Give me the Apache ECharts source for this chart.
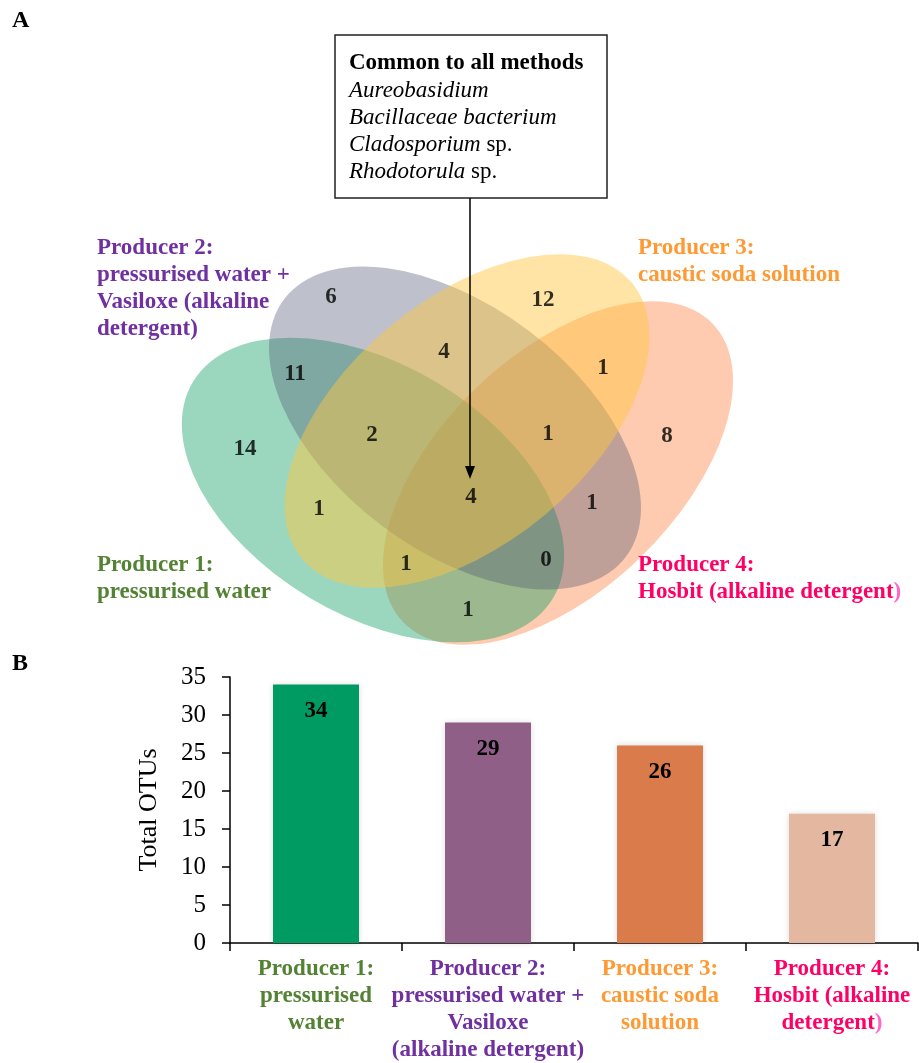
<!DOCTYPE html>
<html>
<head>
<meta charset="utf-8">
<title>OTUs by cleaning method</title>
<script src="https://cdn.jsdelivr.net/npm/echarts@6/dist/echarts.min.js"></script>
<style>
  html, body { margin: 0; padding: 0; background: #ffffff; }
  #chart { width: 919px; height: 1063px; }
</style>
</head>
<body>
<div id="chart"></div>
<script>
// ---------- data ----------
const producers = ['Producer 1', 'Producer 2', 'Producer 3', 'Producer 4'];

// cleaning method, one entry per producer (line breaks for the Venn labels)
const vennLabelLines = [
  ['Producer 1:', 'pressurised water'],
  ['Producer 2:', 'pressurised water +', 'Vasiloxe (alkaline', 'detergent)'],
  ['Producer 3:', 'caustic soda solution'],
  ['Producer 4:', 'Hosbit (alkaline detergent']
];
// same methods, wrapped for the bar-chart axis
const axisLabelLines = [
  ['Producer 1:', 'pressurised', 'water'],
  ['Producer 2:', 'pressurised water +', 'Vasiloxe', '(alkaline detergent)'],
  ['Producer 3:', 'caustic soda', 'solution'],
  ['Producer 4:', 'Hosbit (alkaline', 'detergent']
];

// Panel B: total OTUs per producer
const totalOTUs = [34, 29, 26, 17];
const yTickLabels = ['0', '5', '10', '15', '20', '25', '30', '35'];

// Panel A: OTUs in each Venn region (producers sharing them)
const regionSets = ['1', '2', '3', '4', '1+2', '1+3', '1+4', '2+3', '2+4', '3+4',
                    '1+2+3', '1+2+4', '1+3+4', '2+3+4', '1+2+3+4'];
const regionCounts = [14, 6, 12, 8, 11, 1, 1, 4, 1, 1, 2, 0, 1, 1, 4];

const commonTaxa = ['Aureobasidium', 'Bacillaceae bacterium', 'Cladosporium', 'Rhodotorula'];
const commonTaxaSuffix = ['', '', ' sp.', ' sp.'];

// ---------- layout & style ----------
const SERIF = '"Liberation Serif", "Times New Roman", serif';
const FS = 23;   // text size used throughout the figure
const LH = 27;   // line height of the multi-line labels
const producerColors = ['#548235', '#7030A0', '#FF9933', '#FF0066'];
const barColors = ['#009B62', '#8F5F88', '#D97B4A', '#E3B7A0'];

// Venn ellipses in diagram units: [cx, cy, semi-major, semi-minor, tilt in degrees (anticlockwise)]
const ellipseGeom = [
  [373, 490, 210, 125, -31],
  [455, 428, 214, 122, -37],
  [467, 421, 215, 122, 40],
  [558, 473, 215, 118, 44]
];
const vennFills = [
  'rgba(5,155,92,0.40)',
  'rgba(79,88,115,0.37)',
  'rgba(255,198,64,0.47)',
  'rgba(255,140,80,0.45)'
];
const vennDrawOrder = [3, 0, 1, 2];

// anchor of each region's count, same order as regionSets
const regionAnchors = [
  [245, 449], [331, 297], [543, 300], [667, 436],
  [295, 374], [319, 509], [468, 610], [444, 352], [592, 503], [603, 368],
  [372, 435], [546, 560], [406, 564], [548, 434], [471, 497]
];

// ---------- chart ----------
const chart = echarts.init(document.getElementById('chart'), null, { renderer: 'canvas' });

const boldRich = color => ({ fontFamily: SERIF, fontWeight: 'bold', fontSize: FS, lineHeight: LH, fill: color, color: color });

const vennLabelGraphics = vennLabelLines.map((lines, i) => {
  const pos = [[97, 552], [97, 235], [638, 235], [638, 552]][i];
  let text = lines.map(l => '{t|' + l + '}').join('\n');
  if (i === 3) text += '{e|)}';
  return {
    type: 'text', x: pos[0], y: pos[1], z: 10,
    style: {
      text: text,
      verticalAlign: 'top',
      rich: { t: boldRich(producerColors[i]), e: boldRich('#FF66CC') }
    }
  };
});

const boxText = ['{b|Common to all methods}']
  .concat(commonTaxa.map((t, i) => '{i|' + t + '}' + (commonTaxaSuffix[i] ? '{r|' + commonTaxaSuffix[i] + '}' : '')))
  .join('\n');

const option = {
  animation: false,
  backgroundColor: '#ffffff',
  grid: [
    { left: 0, top: 0, width: 919, height: 1063 },
    { left: 230, top: 677, width: 688, height: 266 }
  ],
  xAxis: [
    { gridIndex: 0, type: 'value', min: 0, max: 919, show: false },
    {
      gridIndex: 1, type: 'category', data: producers,
      axisLine: { lineStyle: { color: '#000', width: 1.5 } },
      axisTick: { show: true, length: 8, lineStyle: { color: '#000', width: 1.5 } },
      axisLabel: {
        interval: 0, margin: 13,
        formatter: (v, idx) => {
          let s = axisLabelLines[idx].map(l => '{c' + idx + '|' + l + '}').join('\n');
          if (idx === 3) s += '{e|)}';
          return s;
        },
        rich: {
          c0: boldRich(producerColors[0]),
          c1: boldRich(producerColors[1]),
          c2: boldRich(producerColors[2]),
          c3: boldRich(producerColors[3]),
          e: boldRich('#FF66CC')
        }
      }
    }
  ],
  yAxis: [
    { gridIndex: 0, type: 'value', min: 0, max: 1063, inverse: true, show: false },
    {
      gridIndex: 1, type: 'value', min: 0, max: 35, interval: 5,
      name: 'Total OTUs', nameLocation: 'middle', nameGap: 68,
      nameTextStyle: { fontFamily: SERIF, fontSize: 26, color: '#000' },
      axisLine: { show: true, lineStyle: { color: '#000', width: 1.5 } },
      axisTick: { show: true, length: 8, lineStyle: { color: '#000', width: 1.5 } },
      splitLine: { show: false },
      axisLabel: {
        margin: 24, fontFamily: SERIF, fontSize: 25, color: '#000',
        formatter: v => yTickLabels[Math.round(v / 5)]
      }
    }
  ],
  series: [
    {
      type: 'custom', name: 'venn', xAxisIndex: 0, yAxisIndex: 0, silent: true, z: 1,
      data: vennDrawOrder.map(k => ellipseGeom[k]),
      renderItem: (params, api) => {
        const k = vennDrawOrder[params.dataIndex];
        const c = api.coord([api.value(0), api.value(1)]);
        const s = api.size([api.value(2), api.value(3)]);
        const rx = Math.abs(s[0]), ry = Math.abs(s[1]);
        return {
          type: 'circle',
          x: c[0], y: c[1],
          rotation: api.value(4) * Math.PI / 180,
          scaleX: rx / ry, scaleY: 1,
          shape: { cx: 0, cy: 0, r: ry },
          style: { fill: vennFills[k] }
        };
      }
    },
    {
      type: 'scatter', name: 'regions', xAxisIndex: 0, yAxisIndex: 0, silent: true, z: 3,
      symbolSize: 0,
      data: regionAnchors.map((p, i) => ({ name: regionSets[i], value: [p[0], p[1], regionCounts[i]] })),
      label: {
        show: true, position: 'inside',
        formatter: p => String(p.value[2]),
        fontFamily: SERIF, fontWeight: 'bold', fontSize: FS, color: '#000'
      }
    },
    {
      type: 'bar', name: 'Total OTUs', xAxisIndex: 1, yAxisIndex: 1, barWidth: '50%',
      data: totalOTUs.map((v, i) => ({
        value: v,
        itemStyle: { color: barColors[i], shadowBlur: 6, shadowColor: 'rgba(0,0,0,0.15)' }
      })),
      label: {
        show: true, position: 'insideTop', distance: 15,
        fontFamily: SERIF, fontWeight: 'bold', fontSize: FS, color: '#000'
      }
    }
  ],
  graphic: [
    { type: 'text', x: 12, y: 9, style: { text: 'A', font: 'bold 24px ' + SERIF, fill: '#000', verticalAlign: 'top' } },
    { type: 'text', x: 12, y: 652, style: { text: 'B', font: 'bold 24px ' + SERIF, fill: '#000', verticalAlign: 'top' } },
    {
      type: 'rect', z: 10,
      shape: { x: 335, y: 35, width: 272, height: 163 },
      style: { fill: '#fff', stroke: '#222', lineWidth: 1.5 }
    },
    {
      type: 'text', x: 349, y: 50, z: 11,
      style: {
        text: boxText, verticalAlign: 'top',
        rich: {
          b: { fontFamily: SERIF, fontWeight: 'bold', fontSize: FS, lineHeight: LH, fill: '#000' },
          i: { fontFamily: SERIF, fontStyle: 'italic', fontSize: FS, lineHeight: LH, fill: '#000' },
          r: { fontFamily: SERIF, fontSize: FS, lineHeight: LH, fill: '#000' }
        }
      }
    },
    { type: 'line', z: 10, shape: { x1: 470, y1: 198, x2: 470, y2: 468 }, style: { stroke: '#000', lineWidth: 1.5 } },
    { type: 'polygon', z: 10, shape: { points: [[465, 466], [475, 466], [470, 479]] }, style: { fill: '#000' } }
  ].concat(vennLabelGraphics)
};

chart.setOption(option);
</script>
</body>
</html>
